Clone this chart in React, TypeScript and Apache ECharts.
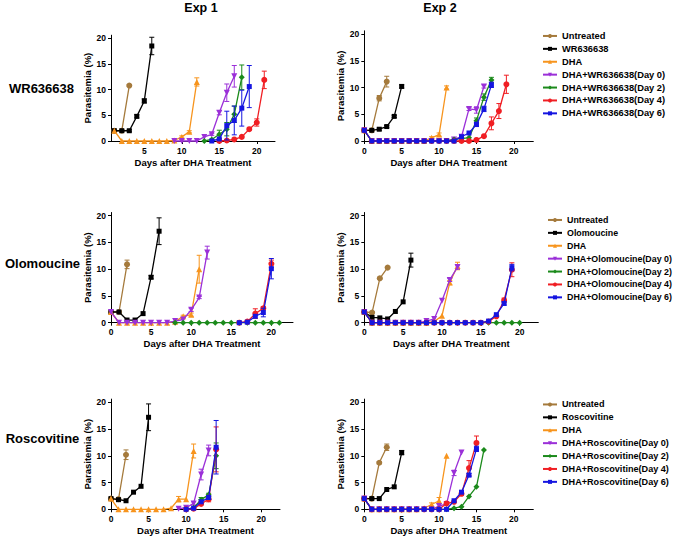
import React, { useEffect, useRef } from "react";
import * as echarts from "echarts";

type V = (number | null)[];

// ---------------- WR636638 - Exp 1 (first measurement on day 1) ----------------
const wr1Untreated: V = [null, 2, 2, 10.8];
const wr1UntreatedErr = [0, 0.3, 0.2, 0.2];
const wr1Drug: V = [null, 2, 2, 2, 4.8, 7.8, 18.5];
const wr1DrugErr = [0, 0, 0, 0.2, 0.3, 0.4, 1.7];
const wr1DHA: V = [null, 2, 0, 0, 0, 0, 0, 0, 0, 0.1, 0.8, 1.8, 11.5];
const wr1DHAErr = [0, 0, 0, 0, 0, 0, 0, 0, 0, 0, 0.2, 0.2, 0.8];
const wr1D0: V = [null, null, null, null, null, null, null, null, null, 0, 0, 0, 0, 0.8, 1.3, 5.5, 9.4, 12.6];
const wr1D0Err = [0, 0, 0, 0, 0, 0, 0, 0, 0, 0, 0, 0, 0, 0, 0.2, 0.4, 1.7, 2.1];
const wr1D2: V = [null, null, null, null, null, null, null, null, null, null, null, null, null, 0, 0.3, 1.3, 2.3, 5.2, 12.4];
const wr1D2Err = [0, 0, 0, 0, 0, 0, 0, 0, 0, 0, 0, 0, 0, 0, 0, 0.8, 1.3, 1.6, 2.4];
const wr1D4: V = [null, null, null, null, null, null, null, null, null, null, null, null, null, null, null, 0, 0.1, 0.3, 0.8, 2.3, 3.6, 11.9];
const wr1D4Err = [0, 0, 0, 0, 0, 0, 0, 0, 0, 0, 0, 0, 0, 0, 0, 0, 0, 0, 0, 0, 0.7, 1.7];
const wr1D6: V = [null, null, null, null, null, null, null, null, null, null, null, null, null, null, 0, 0.4, 3.0, 4.0, 6.4, 10.6];
const wr1D6Err = [0, 0, 0, 0, 0, 0, 0, 0, 0, 0, 0, 0, 0, 0, 0, 0, 2.8, 2.8, 3.5, 4.1];

// ---------------- WR636638 - Exp 2 ----------------
const wr2Untreated: V = [2, 2, 8.0, 11.1];
const wr2UntreatedErr = [0.2, 0.1, 0.5, 1.0];
const wr2Drug: V = [2, 2, 2.2, 2.7, 4.6, 10.2];
const wr2DrugErr = [0, 0, 0.2, 0.2, 0.2, 0.3];
const wr2DHA: V = [2, 0, 0, 0, 0, 0, 0, 0, 0, 0.6, 1.2, 10.0];
const wr2DHAErr = [0, 0, 0, 0, 0, 0, 0, 0, 0, 0.2, 0.3, 0.3];
const wr2D0: V = [2, 0, 0, 0, 0, 0, 0, 0, 0, 0, 0, 0, 0.3, 0.8, 6.0, 5.8, 10.2];
const wr2D0Err = [0, 0, 0, 0, 0, 0, 0, 0, 0, 0, 0, 0, 0, 0.3, 0.3, 0.6, 0.3];
const wr2D2: V = [2, 0, 0, 0, 0, 0, 0, 0, 0, 0, 0, 0, 0.3, 0.5, 0.6, 3.8, 8.2, 11.4];
const wr2D2Err = [0, 0, 0, 0, 0, 0, 0, 0, 0, 0, 0, 0, 0, 0, 0, 0.5, 0.6, 0.5];
const wr2D4: V = [2, 0, 0, 0, 0, 0, 0, 0, 0, 0, 0, 0, 0, 0, 0, 0.2, 0.9, 3.3, 5.6, 10.6];
const wr2D4Err = [0, 0, 0, 0, 0, 0, 0, 0, 0, 0, 0, 0, 0, 0, 0, 0, 0, 1.2, 1.4, 1.7];
const wr2D6: V = [2, 0, 0, 0, 0, 0, 0, 0, 0, 0, 0, 0, 0, 0.8, 1.5, 3.1, 6.0, 10.5];
const wr2D6Err = [0, 0, 0, 0, 0, 0, 0, 0, 0, 0, 0, 0, 0, 0, 0, 0.4, 0.5, 0.5];

// ---------------- Olomoucine - Exp 1 ----------------
const ol1Untreated: V = [2, 2, 10.9];
const ol1UntreatedErr = [0, 0, 0.8];
const ol1Drug: V = [2, 2, 0.5, 0.5, 1.7, 8.5, 17.1];
const ol1DrugErr = [0, 0, 0, 0, 0, 0.3, 2.5];
const ol1DHA: V = [2, 0, 0, 0, 0, 0, 0, 0, 0.2, 1.2, 1.5, 10.0];
const ol1DHAErr = [0, 0, 0, 0, 0, 0, 0, 0, 0, 0.2, 0.3, 2.6];
const ol1D0: V = [2, 0, 0, 0, 0, 0, 0, 0, 0.3, 0.6, 2.4, 4.7, 13.1];
const ol1D0Err = [0, 0, 0, 0, 0, 0, 0, 0, 0, 0, 0.3, 0.2, 1.2];
const ol1D2: V = [null, null, null, null, null, null, null, null, 0, 0, 0, 0, 0, 0, 0, 0, 0, 0, 0, 0, 0, 0];
const ol1D2Err = [0];
const ol1D4: V = [null, null, null, null, null, null, null, null, null, null, null, null, null, null, null, null, 0, 0.2, 1.7, 2.7, 11.0];
const ol1D4Err = [0, 0, 0, 0, 0, 0, 0, 0, 0, 0, 0, 0, 0, 0, 0, 0, 0, 0, 0.9, 0.3, 0.7];
const ol1D6: V = [null, null, null, null, null, null, null, null, null, null, null, null, null, null, null, null, 0, 0.1, 1.2, 1.9, 10.1];
const ol1D6Err = [0, 0, 0, 0, 0, 0, 0, 0, 0, 0, 0, 0, 0, 0, 0, 0, 0, 0, 0, 0.8, 1.9];

// ---------------- Olomoucine - Exp 2 ----------------
const ol2Untreated: V = [2, 1.9, 8.3, 10.3];
const ol2UntreatedErr = [0, 0.2, 0.2, 0.2];
const ol2Drug: V = [2, 1.0, 0.9, 0.7, 2.1, 3.9, 11.7];
const ol2DrugErr = [0, 0, 0, 0, 0, 0, 1.3];
const ol2DHA: V = [2, 0, 0, 0, 0, 0, 0, 0, 0, 0.2, 1.3, 7.5, 10.6];
const ol2DHAErr = [0, 0, 0, 0, 0, 0, 0, 0, 0, 0, 0, 0.4, 0.7];
const ol2D0: V = [2, 0, 0, 0, 0, 0, 0, 0, 0.3, 0.7, 4.1, 8.0, 10.4];
const ol2D0Err = [0, 0, 0, 0, 0, 0, 0, 0, 0, 0, 0, 0.3, 0.4];
const ol2D2: V = [2, 0, 0, 0, 0, 0, 0, 0, 0, 0, 0, 0, 0, 0, 0, 0, 0, 0, 0, 0, 0];
const ol2D2Err = [0];
const ol2D4: V = [2, 0, 0, 0, 0, 0, 0, 0, 0, 0, 0, 0, 0, 0, 0, 0, 0.2, 1.2, 4.2, 9.9];
const ol2D4Err = [0, 0, 0, 0, 0, 0, 0, 0, 0, 0, 0, 0, 0, 0, 0, 0, 0, 0, 0.4, 1.3];
const ol2D6: V = [2, 0, 0, 0, 0, 0, 0, 0, 0, 0, 0, 0, 0, 0, 0, 0, 0.3, 1.5, 3.6, 10.3];
const ol2D6Err = [0, 0, 0, 0, 0, 0, 0, 0, 0, 0, 0, 0, 0, 0, 0, 0, 0, 0, 0.3, 0.6];

// ---------------- Roscovitine - Exp 1 ----------------
const ro1Untreated: V = [2, 1.9, 10.2];
const ro1UntreatedErr = [0.2, 0, 0.9];
const ro1Drug: V = [2, 1.8, 1.6, 3.2, 4.3, 17.2];
const ro1DrugErr = [0, 0, 0, 0, 0, 2.5];
const ro1DHA: V = [2, 0, 0, 0, 0, 0, 0, 0, 0.2, 1.9, 1.9, 10.9];
const ro1DHAErr = [0, 0, 0, 0, 0, 0, 0, 0, 0, 0.5, 0, 1.3];
const ro1D0: V = [null, null, null, null, null, null, null, null, null, 0.1, 0.3, 1.1, 6.5, 11.0];
const ro1D0Err = [0, 0, 0, 0, 0, 0, 0, 0, 0, 0, 0, 0.3, 1.0, 1.0];
const ro1D2: V = [null, null, null, null, null, null, null, null, null, null, 0, 0.3, 1.8, 2.7, 10.0];
const ro1D2Err = [0, 0, 0, 0, 0, 0, 0, 0, 0, 0, 0, 0, 0.4, 0.3, 2.4];
const ro1D4: V = [null, null, null, null, null, null, null, null, null, null, 0, 0.1, 1.0, 1.9, 11.2];
const ro1D4Err = [0, 0, 0, 0, 0, 0, 0, 0, 0, 0, 0, 0, 0, 0.5, 4.2];
const ro1D6: V = [null, null, null, null, null, null, null, null, null, null, 0, 0.2, 1.4, 2.2, 11.6];
const ro1D6Err = [0, 0, 0, 0, 0, 0, 0, 0, 0, 0, 0, 0, 0, 0.3, 5.0];

// ---------------- Roscovitine - Exp 2 ----------------
const ro2Untreated: V = [2, 2, 8.7, 11.6];
const ro2UntreatedErr = [0, 0, 0.2, 0.6];
const ro2Drug: V = [2, 2, 2, 3.7, 4.2, 10.6];
const ro2DrugErr = [0, 0, 0, 0, 0, 0.4];
const ro2DHA: V = [2, 0, 0, 0, 0, 0, 0, 0, 0.2, 0.9, 1.6, 10.0];
const ro2DHAErr = [0, 0, 0, 0, 0, 0, 0, 0, 0, 0.3, 0.6, 0];
const ro2D0: V = [2, 0, 0, 0, 0, 0, 0, 0, 0, 0, 0.6, 1.0, 6.8, 10.6];
const ro2D0Err = [0, 0, 0, 0, 0, 0, 0, 0, 0, 0, 0, 0, 0.5, 0];
const ro2D2: V = [2, 0, 0, 0, 0, 0, 0, 0, 0, 0, 0, 0, 0.2, 0.5, 2.4, 4.2, 11.1];
const ro2D2Err = [0];
const ro2D4: V = [2, 0, 0, 0, 0, 0, 0, 0, 0, 0, 0, 1.1, 1.4, 2.9, 7.7, 12.4];
const ro2D4Err = [0, 0, 0, 0, 0, 0, 0, 0, 0, 0, 0, 0, 0, 0.3, 1.4, 1.3];
const ro2D6: V = [2, 0, 0, 0, 0, 0, 0, 0, 0, 0, 0, 0, 1.6, 3.2, 6.4, 11.3];
const ro2D6Err = [0, 0, 0, 0, 0, 0, 0, 0, 0, 0, 0, 0, 0, 0, 0.3, 0.5];

const drugNames = ["WR636638", "Olomoucine", "Roscovitine"];
const yTicks = [0, 5, 10, 15, 20];

const FONT = '"Liberation Sans", Arial, Helvetica, sans-serif';
const COLORS = ["#A57A3C", "#000000", "#F7941D", "#9B30D8", "#1B8A1B", "#F01E23", "#1515E0"];
const SYMBOLS = ["circle", "rect", "triangle", "path://M0,0L10,0L5,9Z", "diamond", "circle", "rect"];
const SIZES = [6, 5, 6, 6, 6, 6, 5];

const seriesNames = (drug: string) => [
  "Untreated",
  drug,
  "DHA",
  `DHA+${drug}(Day 0)`,
  `DHA+${drug}(Day 2)`,
  `DHA+${drug}(Day 4)`,
  `DHA+${drug}(Day 6)`,
];

const panels = [
  {
    row: 0,
    vals: [wr1Untreated, wr1Drug, wr1DHA, wr1D0, wr1D2, wr1D4, wr1D6],
    errs: [wr1UntreatedErr, wr1DrugErr, wr1DHAErr, wr1D0Err, wr1D2Err, wr1D4Err, wr1D6Err],
    grid: { left: 111, top: 35.2, width: 164, height: 105.8 },
    xMin: 0.56, xMax: 22.43, xTicks: [5, 10, 15, 20], yGap: 9,
  },
  {
    row: 0,
    vals: [wr2Untreated, wr2Drug, wr2DHA, wr2D0, wr2D2, wr2D4, wr2D6],
    errs: [wr2UntreatedErr, wr2DrugErr, wr2DHAErr, wr2D0Err, wr2D2Err, wr2D4Err, wr2D6Err],
    grid: { left: 364.3, top: 30.8, width: 169, height: 110.2 },
    xMin: 0, xMax: 22.6, xTicks: [0, 5, 10, 15, 20], yGap: 13,
  },
  {
    row: 1,
    vals: [ol1Untreated, ol1Drug, ol1DHA, ol1D0, ol1D2, ol1D4, ol1D6],
    errs: [ol1UntreatedErr, ol1DrugErr, ol1DHAErr, ol1D0Err, ol1D2Err, ol1D4Err, ol1D6Err],
    grid: { left: 111, top: 212.5, width: 182, height: 110.2 },
    xMin: 0, xMax: 22.7, xTicks: [0, 5, 10, 15, 20], yGap: 9,
  },
  {
    row: 1,
    vals: [ol2Untreated, ol2Drug, ol2DHA, ol2D0, ol2D2, ol2D4, ol2D6],
    errs: [ol2UntreatedErr, ol2DrugErr, ol2DHAErr, ol2D0Err, ol2D2Err, ol2D4Err, ol2D6Err],
    grid: { left: 364.3, top: 212.5, width: 174, height: 110.2 },
    xMin: 0, xMax: 22.4, xTicks: [0, 5, 10, 15, 20], yGap: 13,
  },
  {
    row: 2,
    vals: [ro1Untreated, ro1Drug, ro1DHA, ro1D0, ro1D2, ro1D4, ro1D6],
    errs: [ro1UntreatedErr, ro1DrugErr, ro1DHAErr, ro1D0Err, ro1D2Err, ro1D4Err, ro1D6Err],
    grid: { left: 111, top: 399.1, width: 169, height: 110.2 },
    xMin: 0, xMax: 22.5, xTicks: [0, 5, 10, 15, 20], yGap: 9,
  },
  {
    row: 2,
    vals: [ro2Untreated, ro2Drug, ro2DHA, ro2D0, ro2D2, ro2D4, ro2D6],
    errs: [ro2UntreatedErr, ro2DrugErr, ro2DHAErr, ro2D0Err, ro2D2Err, ro2D4Err, ro2D6Err],
    grid: { left: 364.3, top: 399.1, width: 169, height: 110.2 },
    xMin: 0, xMax: 22.6, xTicks: [0, 5, 10, 15, 20], yGap: 13,
  },
];

const legendPos = [
  { left: 542, top: 30.5, size: 9.3 },
  { left: 547, top: 214.5, size: 8.85 },
  { left: 542, top: 399, size: 9.1 },
];

function buildOption() {
  const grids: any[] = [];
  const xAxes: any[] = [];
  const yAxes: any[] = [];
  const series: any[] = [];
  const labelStyle = { fontFamily: FONT, fontWeight: "bold", fontSize: 8.5, color: "#000" };
  const nameStyle = { fontFamily: FONT, fontWeight: "bold", fontSize: 9.5, color: "#000" };

  panels.forEach((p, pi) => {
    grids.push({ ...p.grid, containLabel: false });
    xAxes.push({
      type: "value",
      gridIndex: pi,
      min: p.xMin,
      max: p.xMax,
      name: "Days after DHA Treatment",
      nameLocation: "middle",
      nameGap: 16,
      nameTextStyle: nameStyle,
      axisLine: { show: true, onZero: false, lineStyle: { color: "#000", width: 1 } },
      axisTick: { show: true, inside: false, length: 3, customValues: p.xTicks, lineStyle: { color: "#000" } },
      axisLabel: { show: true, margin: 5, customValues: p.xTicks, ...labelStyle },
      splitLine: { show: false },
    });
    yAxes.push({
      type: "value",
      gridIndex: pi,
      min: 0,
      max: 20.6,
      name: "Parasitemia (%)",
      nameLocation: "middle",
      nameGap: p.yGap,
      nameTextStyle: nameStyle,
      axisLine: { show: true, onZero: false, lineStyle: { color: "#000", width: 1 } },
      axisTick: { show: true, inside: false, length: 3, customValues: yTicks, lineStyle: { color: "#000" } },
      axisLabel: { show: true, margin: 5, customValues: yTicks, ...labelStyle },
      splitLine: { show: false },
    });
    const names = seriesNames(drugNames[p.row]);
    p.vals.forEach((vals, si) => {
      const color = COLORS[si];
      const data = vals
        .map((v, i) => [i, v])
        .filter((d) => d[1] !== null);
      series.push({
        type: "line",
        name: names[si],
        xAxisIndex: pi,
        yAxisIndex: pi,
        data,
        symbol: SYMBOLS[si],
        symbolSize: SIZES[si],
        showSymbol: true,
        clip: false,
        z: 3 + si,
        itemStyle: { color, borderWidth: 0 },
        lineStyle: { color, width: 1.3 },
        emphasis: { disabled: true },
      });
      const errs = p.errs[si];
      const eData: number[][] = [];
      errs.forEach((e, i) => {
        const v = vals[i];
        if (e > 0 && v !== null && v !== undefined) {
          eData.push([i, Math.max(0, v - e), v + e]);
        }
      });
      if (eData.length) {
        series.push({
          type: "custom",
          name: `err-${pi}-${si}`,
          xAxisIndex: pi,
          yAxisIndex: pi,
          data: eData,
          encode: { x: 0, y: [1, 2] },
          silent: true,
          clip: false,
          z: 3 + si,
          renderItem: (_params: any, api: any) => {
            const x = api.value(0);
            const top = api.coord([x, api.value(2)]);
            const bot = api.coord([x, api.value(1)]);
            const w = 2.5;
            const st = { stroke: color, lineWidth: 1 };
            return {
              type: "group",
              children: [
                { type: "line", shape: { x1: top[0], y1: top[1], x2: bot[0], y2: bot[1] }, style: st },
                { type: "line", shape: { x1: top[0] - w, y1: top[1], x2: top[0] + w, y2: top[1] }, style: st },
                { type: "line", shape: { x1: bot[0] - w, y1: bot[1], x2: bot[0] + w, y2: bot[1] }, style: st },
              ],
            };
          },
        });
      }
    });
  });

  const legends = drugNames.map((drug, k) => ({
    data: seriesNames(drug),
    orient: "vertical",
    left: legendPos[k].left,
    top: legendPos[k].top,
    padding: 0,
    itemWidth: 14,
    itemHeight: 5,
    itemGap: 2,
    selectedMode: false,
    textStyle: { fontFamily: FONT, fontWeight: "bold", fontSize: legendPos[k].size, color: "#000", lineHeight: 10.9 },
  }));

  const textStyle = (text: string, x: number, y: number, size: number) => ({
    type: "text",
    x,
    y,
    style: {
      text,
      x: 0,
      y: 0,
      textAlign: "center",
      textVerticalAlign: "middle",
      font: `bold ${size}px ${FONT}`,
      fill: "#000",
    },
  });

  return {
    animation: false,
    backgroundColor: "#ffffff",
    grid: grids,
    xAxis: xAxes,
    yAxis: yAxes,
    legend: legends,
    series,
    graphic: [
      textStyle("Exp 1", 201, 8, 12.5),
      textStyle("Exp 2", 440, 8, 12.5),
      textStyle("WR636638", 41.5, 88, 13),
      textStyle("Olomoucine", 42.5, 263, 13),
      textStyle("Roscovitine", 42.5, 438, 13),
    ],
  };
}

export default function App() {
  const ref = useRef<HTMLDivElement>(null);
  useEffect(() => {
    if (!ref.current) return;
    const chart = echarts.init(ref.current, undefined, { renderer: "svg" });
    chart.setOption(buildOption() as any);
    return () => chart.dispose();
  }, []);
  return (
    <div
      ref={ref}
      style={{ position: "fixed", left: 0, top: 0, width: 676, height: 538, background: "#fff" }}
    />
  );
}
